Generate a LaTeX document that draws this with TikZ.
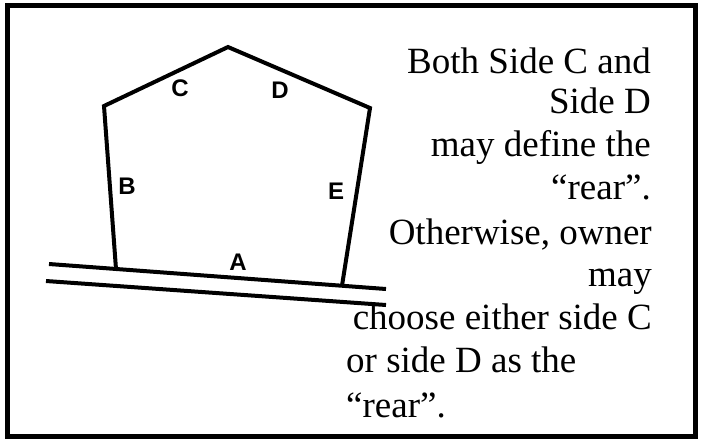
\documentclass[tikz,border=0pt]{standalone}
\usepackage{fontspec}
\setmainfont{Liberation Serif}
\newfontfamily\labelfont{Liberation Sans}
\begin{document}
\begin{tikzpicture}[x=1pt,y=-1pt,
  frame/.style={line width=5pt},
  wall/.style={line width=4pt,line join=miter},
  sidelabel/.style={font=\labelfont\bfseries\fontsize{24}{24}\selectfont,inner sep=0pt},
  note/.style={font=\fontsize{37}{43}\selectfont,inner sep=0pt}]
\useasboundingbox (0,0) rectangle (701,440);
\draw[frame] (7.5,5.5) rectangle (695.5,436);
% base lines
\coordinate (u1) at (49,264);
\coordinate (u2) at (386,289);
\coordinate (l1) at (46,281);
\coordinate (l2) at (386,305);
\draw[wall] (u1) -- (u2);
\draw[wall] (l1) -- (l2);
% pentagon
\coordinate (bl) at (116,269);
\coordinate (ul) at (104,106);
\coordinate (top) at (228,47);
\coordinate (ur) at (370,108);
\coordinate (br) at (342,285.7);
\draw[wall] (bl) -- (ul) -- (top) -- (ur) -- (br);
% side labels
\node[sidelabel] (A) at (238,262) {A};
\node[sidelabel] (B) at (127,186) {B};
\node[sidelabel] (C) at (180,88) {C};
\node[sidelabel] (D) at (280,90) {D};
\node[sidelabel] (E) at (336,191) {E};
% note text
\node[note,anchor=base east] (t1) at (651,73) {Both Side C and};
\node[note,anchor=base east] (t2) at (651,113) {Side D};
\node[note,anchor=base east] (t3) at (651,156) {may define the};
\node[note,anchor=base east] (t4) at (651,199) {“rear”.};
\node[note,anchor=base east] (t5) at (652,244) {Otherwise, owner};
\node[note,anchor=base east] (t6) at (652,286) {may};
\node[note,anchor=base east] (t7) at (652,329) {choose either side C};
\node[note,anchor=base west] (t8) at (346,372) {or side D as the};
\node[note,anchor=base west] (t9) at (346,417) {“rear”.};
\end{tikzpicture}
\end{document}
